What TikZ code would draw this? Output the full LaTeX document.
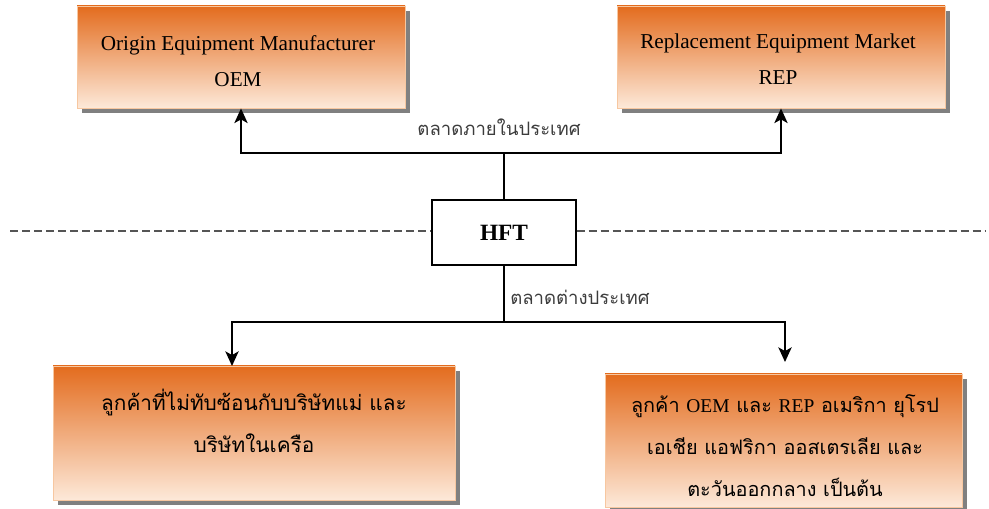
\documentclass[tikz,border=0pt]{standalone}
\usepackage{fontspec}
\setmainfont{Liberation Serif}
\newfontfamily\thaifont[Script=Thai]{Loma}
\usetikzlibrary{arrows.meta,shadows}
\definecolor{orangetop}{HTML}{E36C1E}
\definecolor{peach}{HTML}{FDE9D9}
\definecolor{boxedge}{HTML}{F7C7A0}
\definecolor{dashgray}{HTML}{555555}
\definecolor{labelgray}{HTML}{3C3C3C}
\begin{document}
\begin{tikzpicture}[x=0.75pt,y=-0.75pt,
  gradbox/.style={draw=boxedge, line width=0.7pt, top color=orangetop, bottom color=peach,
    drop shadow={shadow xshift=3.75pt,shadow yshift=-3.75pt,fill=black!50,opacity=1}},
  topbox/.style={gradbox, minimum width=246pt, minimum height=76.5pt},
  engtext/.style={align=center, font=\fontsize{15.9}{27}\selectfont},
  thaitext/.style={align=center, font=\thaifont\fontsize{15.6}{31.5}\selectfont},
  thaitextb/.style={align=center, font=\thaifont\fontsize{14.9}{31.5}\selectfont},
  lbl/.style={text=labelgray, font=\thaifont\fontsize{13.9}{16}\selectfont, inner sep=0pt},
  hftbox/.style={draw=black, line width=0.9pt, fill=white, minimum width=108pt, minimum height=48.75pt,
    font=\bfseries\fontsize{17.5}{20}\selectfont},
  conn/.style={draw=black, line width=1.1pt},
  arr/.style={conn, -{Stealth[length=11pt,width=10pt,inset=2.8pt]}},
  dashline/.style={draw=dashgray, line width=1.1pt, dash pattern=on 6pt off 3pt}
]
\useasboundingbox (0,0) rectangle (989,509);

% boxes
\node[topbox] (oem) at (241,57) {};
\node[topbox] (rep) at (781,57) {};
\node[gradbox, minimum width=301.5pt, minimum height=100.5pt] (cust1) at (254,433) {};
\node[gradbox, minimum width=267.75pt, minimum height=99.75pt] (cust2) at (783.5,440.5) {};
\node[hftbox] (hft) at (504,232.5) {HFT};

% texts in boxes
\node[engtext] (oemt) at (238,61) {Origin Equipment Manufacturer\\OEM};
\node[engtext] (rept) at (778,59) {Replacement Equipment Market\\REP};
\node[thaitext] (cust1t) at (254,421) {ลูกค้าที่ไม่ทับซ้อนกับบริษัทแม่ และ\\บริษัทในเครือ};
\node[thaitextb] (cust2t) at (785,446) {ลูกค้า {\rmfamily\fontsize{14.6}{31.5}\selectfont OEM} และ {\rmfamily\fontsize{14.6}{31.5}\selectfont REP} อเมริกา ยุโรป\\เอเชีย แอฟริกา ออสเตรเลีย และ\\ตะวันออกกลาง เป็นต้น};

% labels
\node[lbl] (dom) at (499,127) {ตลาดภายในประเทศ};
\node[lbl, anchor=west] (exp) at (510,297) {ตลาดต่างประเทศ};

% dashed divider
\coordinate (dl) at (10,231);
\coordinate (dr) at (986,231);
\draw[dashline] (dl) -- (hft.west |- dl);
\draw[dashline] (hft.east |- dr) -- (dr);

% connectors
\coordinate (jt) at (504,153);
\coordinate (jb) at (504,322);
\coordinate (c1top) at (232,366);
\coordinate (c2top) at (785,362);
\draw[conn] (hft.north) -- (jt);
\draw[arr] (jt) -| (oem.south);
\draw[arr] (jt) -| (rep.south);
\draw[conn] (hft.south) -- (jb);
\draw[arr] (jb) -| (c1top);
\draw[arr] (jb) -| (c2top);
\end{tikzpicture}
\end{document}
